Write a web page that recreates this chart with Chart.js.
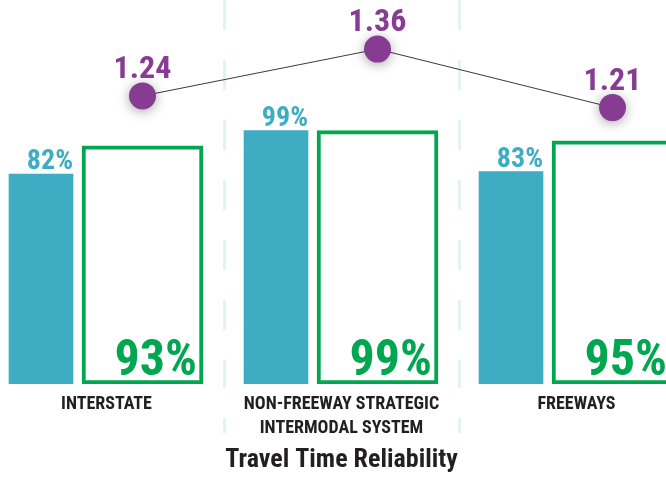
<!DOCTYPE html>
<html>
<head>
<meta charset="utf-8">
<script src="https://cdn.jsdelivr.net/npm/chart.js@4.4.1/dist/chart.umd.min.js"></script>
<style>
  html, body { margin:0; padding:0; background:#fff; overflow:hidden; width:666px; height:479px }
  #wrap { position:absolute; left:-11px; top:0; width:705px; height:479px }
</style>
</head>
<body>
<div id="wrap"><canvas id="chart" width="705" height="479"></canvas></div>
<script>
const categories = [["INTERSTATE"], ["NON-FREEWAY STRATEGIC", "INTERMODAL SYSTEM"], ["FREEWAYS"]]
const reliable = [82, 99, 83]
const reliableTarget = [93, 99, 95]
const lottr = [1.24, 1.36, 1.21]
const chartTitle = "Travel Time Reliability"

const TEAL = "#3eadc4"
const GREEN = "#00a650"
const PURPLE = "#873b93"
const INK = "#231f20"
const SEPARATOR = "#e3f2f3"

// bar offsets inside a category, in category units
const tealShift = -0.2787
const greenShift = 0.1532

function hasFont(name) {
  const c = document.createElement("canvas").getContext("2d")
  c.font = "40px monospace"
  const a = c.measureText("INTERSTATE 1.24 93%").width
  c.font = `40px '${name}', monospace`
  return c.measureText("INTERSTATE 1.24 93%").width !== a
}
const condensed = ["Roboto Condensed", "Liberation Sans Narrow", "DejaVu Sans Condensed"].find(hasFont)
const family = condensed ? `'${condensed}', Roboto, sans-serif` : "Roboto, sans-serif"
const squeeze = condensed ? 1 : 0.86

function squeezed(ctx, text, x, y, size, color, align) {
  ctx.save()
  ctx.font = `bold ${size}px ${family}`
  ctx.fillStyle = color
  ctx.textAlign = align
  ctx.textBaseline = "alphabetic"
  ctx.translate(x, y)
  ctx.scale(squeeze, 1)
  ctx.fillText(text, 0, 0)
  ctx.restore()
}

const valueLabels = {
  id: "valueLabels",
  afterDatasetsDraw(chart) {
    const {ctx} = chart
    chart.getDatasetMeta(2).data.forEach((bar, i) => squeezed(ctx, `${reliable[i]}%`, bar.x + bar.width / 2, bar.y - 5, 28, TEAL, "right"))
    chart.getDatasetMeta(3).data.forEach((bar, i) => squeezed(ctx, `${reliableTarget[i]}%`, bar.x + bar.width / 2 - 6, bar.base - 9, 50, GREEN, "right"))
    chart.getDatasetMeta(0).data.forEach((pt, i) => squeezed(ctx, lottr[i].toFixed(2), pt.x, pt.y - 18, 32, PURPLE, "center"))
  }
}

const pointShadow = {
  id: "pointShadow",
  beforeDatasetDraw(chart, {index}) {
    if (index !== 0) return
    const {ctx} = chart
    ctx.save()
    ctx.shadowColor = "rgba(0,0,0,0.35)"
    ctx.shadowBlur = 12
    ctx.shadowOffsetY = 2
  },
  afterDatasetDraw(chart, {index}) {
    if (index === 0) chart.ctx.restore()
  }
}

const points = (values) => values.map((y, x) => ({x, y}))

new Chart(document.getElementById("chart"), {
  type: "bar",
  data: {
    labels: categories,
    datasets: [
      {
        type: "line", data: points(lottr), xAxisID: "xg", yAxisID: "y2", order: 0,
        showLine: false, pointRadius: 13.5, pointBackgroundColor: PURPLE, pointBorderWidth: 0
      },
      {
        type: "line", data: points(lottr), xAxisID: "xg", yAxisID: "y2", order: 1,
        borderColor: "#3a3a3a", borderWidth: 1, pointRadius: 0, fill: false
      },
      {
        data: points(reliable), xAxisID: "xt", yAxisID: "y", order: 2, grouped: false,
        backgroundColor: TEAL, barThickness: 64, borderWidth: 0
      },
      {
        data: points(reliableTarget), xAxisID: "xg", yAxisID: "y", order: 2, grouped: false,
        backgroundColor: "#ffffff", borderColor: GREEN, borderWidth: 4, borderSkipped: false, barThickness: 121
      }
    ]
  },
  options: {
    responsive: false,
    animation: false,
    layout: { padding: 0, autoPadding: false },
    plugins: { legend: { display: false }, tooltip: { enabled: false }, title: { display: false } },
    scales: {
      x: {
        type: "category", offset: true,
        afterFit(scale) { scale.height = 95 },
        border: { display: false, dash: [30, 30], dashOffset: 0 },
        grid: {
          offset: true, color: SEPARATOR, lineWidth: 3,
          tickColor: SEPARATOR, tickWidth: 3, tickLength: 49, tickBorderDash: [30, 30], tickBorderDashOffset: 26
        },
        ticks: {
          color: INK, padding: -40, maxRotation: 0, autoSkip: false,
          font: { family, size: condensed ? 18 : 16.5, weight: "bold", lineHeight: condensed ? 1.3 : 1.42 }
        },
        title: {
          display: true, text: chartTitle, color: INK, padding: { top: 0, bottom: 3 },
          font: { family, size: condensed ? 26 : 23.5, weight: "bold", lineHeight: 1.2 }
        }
      },
      xt: { type: "linear", display: false, offset: false, min: -0.5 - tealShift, max: 2.5 - tealShift },
      xg: { type: "linear", display: false, offset: false, min: -0.5 - greenShift, max: 2.5 - greenShift },
      y: { type: "linear", display: false, min: 0, max: 150 },
      y2: { type: "linear", display: false, min: 0.501, max: 1.486 }
    }
  },
  plugins: [pointShadow, valueLabels]
})
</script>
</body>
</html>
